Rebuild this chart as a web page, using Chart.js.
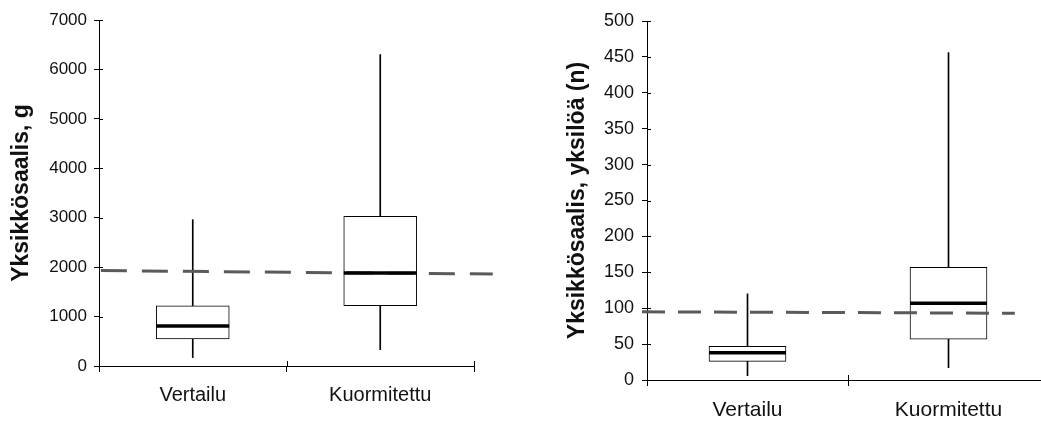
<!DOCTYPE html>
<html>
<head>
<meta charset="utf-8">
<script src="https://cdn.jsdelivr.net/npm/chart.js@4/dist/chart.umd.min.js"></script>
<style>
  html, body { margin: 0; padding: 0; background: #fff; width: 1041px; height: 422px; overflow: hidden; }
  #w1 { position: absolute; left: 0; top: 0; width: 520px; height: 422px; }
  #w2 { position: absolute; left: 520px; top: 0; width: 540px; height: 422px; }
</style>
</head>
<body>
<div id="w1"><canvas id="c1" width="520" height="422"></canvas></div>
<div id="w2"><canvas id="c2" width="540" height="422"></canvas></div>
<script>
// ---- Data ----
const categories = ["Vertailu", "Kuormitettu"];

// Panel 1: Yksikkösaalis, g
const gMin    = [170, 330];
const gQ1     = [550, 1220];
const gMedian = [810, 1880];
const gQ3     = [1215, 3030];
const gMax    = [2960, 6300];
const gRefLine = [1930, 1860];      // dashed reference level (start, end)
const gRefSpan = [-0.49, 1.6];      // category-index span of the dashed line
const gTicks  = [0, 1000, 2000, 3000, 4000, 5000, 6000, 7000];

// Panel 2: Yksikkösaalis, yksilöä (n)
const nMin    = [6, 17];
const nQ1     = [26, 57];
const nMedian = [38, 107];
const nQ3     = [47, 157];
const nMax    = [120, 456];
const nRefLine = [95, 93];
const nRefSpan = [-0.525, 1.33];
const nTicks  = [0, 50, 100, 150, 200, 250, 300, 350, 400, 450, 500];

const FONT = "'Liberation Sans', Arial, sans-serif";
const INK = '#111';

function pairs(a, b) { return a.map((v, i) => [v, b[i]]); }

const boxPlugin = {
  id: 'boxExtras',
  afterDatasetsDraw(chart, args, opts) {
    const ctx = chart.ctx;
    const y = chart.scales.y, x = chart.scales.x;
    const meta = chart.getDatasetMeta(0);
    const area = chart.chartArea;
    ctx.save();
    // inward halves of the crossing tick marks
    ctx.strokeStyle = '#000';
    ctx.lineWidth = 1;
    ctx.beginPath();
    y.ticks.forEach((t, i) => {
      const py = Math.round(y.getPixelForTick(i)) + 0.5;
      ctx.moveTo(area.left, py);
      ctx.lineTo(area.left + 4, py);
    });
    for (let i = 0; i <= categories.length; i++) {
      const px = Math.round(x.getPixelForValue(i - 0.5)) + 0.5;
      if (i === 0) continue;
      ctx.moveTo(px, area.bottom);
      ctx.lineTo(px, area.bottom - 5);
    }
    ctx.stroke();
    // dashed reference line
    ctx.strokeStyle = '#5a5a5a';
    ctx.lineWidth = 3;
    ctx.setLineDash(opts.dash);
    ctx.beginPath();
    ctx.moveTo(x.getPixelForValue(opts.span[0]), y.getPixelForValue(opts.ref[0]));
    ctx.lineTo(x.getPixelForValue(opts.span[1]), y.getPixelForValue(opts.ref[1]));
    ctx.stroke();
    ctx.setLineDash([]);
    // medians
    ctx.strokeStyle = '#000';
    ctx.lineWidth = 3.5;
    meta.data.forEach((el, i) => {
      const py = y.getPixelForValue(opts.median[i]);
      ctx.beginPath();
      ctx.moveTo(el.x - el.width / 2, py);
      ctx.lineTo(el.x + el.width / 2, py);
      ctx.stroke();
    });
    ctx.restore();
  }
};

function makeChart(id, cfg) {
  return new Chart(document.getElementById(id), {
    type: 'bar',
    data: {
      labels: categories,
      datasets: [
        { data: pairs(cfg.q1, cfg.q3), backgroundColor: '#fff', borderColor: '#000', borderWidth: 1,
          borderSkipped: false, barThickness: cfg.boxW, order: 1 },
        { data: pairs(cfg.min, cfg.max), backgroundColor: '#000', borderWidth: 0,
          barThickness: 1, order: 2 }
      ]
    },
    options: {
      responsive: false,
      animation: false,
      devicePixelRatio: 1,
      datasets: { bar: { grouped: false } },
      layout: { padding: { top: cfg.padTop, right: cfg.padRight, left: 0, bottom: 0 } },
      plugins: {
        legend: { display: false },
        tooltip: { enabled: false },
        boxExtras: { median: cfg.median, ref: cfg.ref, span: cfg.span, dash: cfg.dash }
      },
      scales: {
        x: {
          type: 'category',
          offset: true,
          grid: { display: true, offset: true, drawOnChartArea: false, drawTicks: true, tickLength: 6, color: '#000', lineWidth: 1 },
          border: { display: true, color: '#000', width: 1 },
          ticks: { color: INK, font: { family: FONT, size: cfg.xFont }, padding: cfg.xPad, maxRotation: 0 },
          afterFit(s) { s.height = cfg.xH; }
        },
        y: {
          min: 0, max: cfg.ticks[cfg.ticks.length - 1],
          afterBuildTicks(s) { s.ticks = cfg.ticks.map(v => ({ value: v })); },
          grid: { display: true, drawOnChartArea: false, drawTicks: true, tickLength: 5, color: '#000', lineWidth: 1 },
          border: { display: true, color: '#000', width: 1 },
          ticks: { color: INK, font: { family: FONT, size: cfg.yFont }, padding: cfg.yPad,
                   callback: (v) => String(v) },
          title: { display: true, text: cfg.title, color: INK, font: { family: FONT, size: 23, weight: 'bold' }, padding: { top: cfg.titlePad, bottom: 0 } },
          afterFit(s) { s.width = cfg.yW; }
        }
      }
    },
    plugins: [boxPlugin]
  });
}

makeChart('c1', {
  min: gMin, q1: gQ1, median: gMedian, q3: gQ3, max: gMax, ref: gRefLine, span: gRefSpan, ticks: gTicks,
  title: 'Yksikkösaalis, g', boxW: 73, padTop: 20, padRight: 46, xH: 56, yW: 99,
  xFont: 20, yFont: 17, xPad: 11, yPad: 7, titlePad: 8, dash: [26, 15]
});

makeChart('c2', {
  min: nMin, q1: nQ1, median: nMedian, q3: nQ3, max: nMax, ref: nRefLine, span: nRefSpan, ticks: nTicks,
  title: 'Yksikkösaalis, yksilöä (n)', boxW: 77, padTop: 21, padRight: 11, xH: 42, yW: 127,
  xFont: 21, yFont: 18, xPad: 12, yPad: 8, titlePad: 44, dash: [23, 13]
});
</script>
</body>
</html>
